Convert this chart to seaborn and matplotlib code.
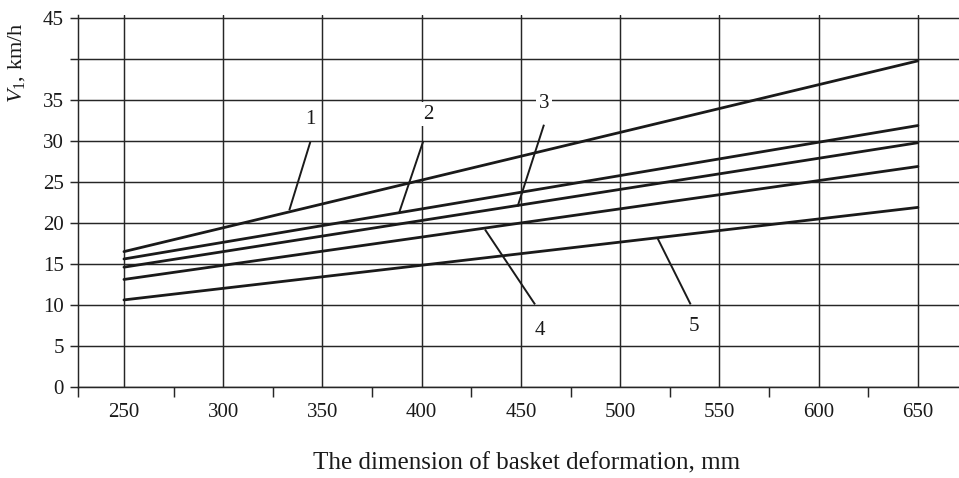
import matplotlib
matplotlib.use("Agg")
import matplotlib.pyplot as plt
import seaborn as sns
import pandas as pd

# ---- data ----
deformation_mm = [250, 650]
curve_ids = ["1", "2", "3", "4", "5"]
v_start = [16.5, 15.6, 14.6, 13.1, 10.6]
v_end = [39.8, 31.9, 29.8, 26.9, 21.9]

x_ticks = [250, 300, 350, 400, 450, 500, 550, 600, 650]
x_minor_ticks = [226.7, 275, 325, 375, 425, 475, 525, 575, 625]
y_ticks = [0, 5, 10, 15, 20, 25, 30, 35, 40, 45]
y_tick_labels = ["0", "5", "10", "15", "20", "25", "30", "35", "", "45"]

label_x = [344.0, 403.3, 461.6, 459.6, 537.3]
label_y = [32.6, 33.3, 34.6, 6.9, 7.3]
leader_x0 = [343.9, 400.8, 461.6, 431.9, 518.7]
leader_y0 = [29.9, 30.0, 32.0, 19.2, 18.2]
leader_x1 = [333.3, 388.7, 448.3, 457.1, 535.5]
leader_y1 = [21.55, 21.3, 22.0, 10.05, 10.05]

x_label = "The dimension of basket deformation, mm"
y_label = "$V_1$, km/h"

rows = []
for cid, a, b in zip(curve_ids, v_start, v_end):
    rows.append({"curve": cid, "x": deformation_mm[0], "v": a})
    rows.append({"curve": cid, "x": deformation_mm[1], "v": b})
df = pd.DataFrame(rows)

sns.set_style("white")
plt.rcParams["font.family"] = ["Liberation Serif", "DejaVu Serif"]
plt.rcParams["mathtext.fontset"] = "custom"
plt.rcParams["mathtext.rm"] = "Liberation Serif"
plt.rcParams["mathtext.it"] = "Liberation Serif:italic"

fig = plt.figure(figsize=(9.59, 4.78), dpi=100)
ax = fig.add_axes([77.7 / 959, 1 - 386.7 / 478, 881.3 / 959, 371.7 / 478])

ink = "#1a1a1a"
grid_c = "#262626"

sns.lineplot(data=df, x="x", y="v", units="curve", estimator=None,
             color=ink, linewidth=2.0, ax=ax, zorder=3, legend=False)

for i, cid in enumerate(curve_ids):
    ax.plot([leader_x0[i], leader_x1[i]], [leader_y0[i], leader_y1[i]],
            color=ink, linewidth=1.4, zorder=3, solid_capstyle="butt")
    ax.text(label_x[i], label_y[i], cid, fontsize=15, ha="center", va="center",
            color=ink, zorder=4,
            bbox=dict(boxstyle="square,pad=0.12", facecolor="white", edgecolor="none"))

ax.set_xlim(226.7, 670.7)
ax.set_ylim(0, 45.4)

ax.set_xticks(x_ticks)
ax.set_xticklabels([str(t) for t in x_ticks])
ax.set_xticks(x_minor_ticks, minor=True)
ax.set_yticks(y_ticks)
ax.set_yticklabels(y_tick_labels)

ax.grid(True, which="major", color=grid_c, linewidth=1.05)
ax.set_axisbelow(True)

ax.tick_params(axis="x", which="major", length=0, pad=11.5, labelsize=15, colors=ink)
ax.tick_params(axis="x", which="minor", length=7.2, width=1.05, direction="out",
               color=grid_c, bottom=True)
ax.tick_params(axis="y", which="major", length=5.8, width=1.05, direction="out",
               pad=4, labelsize=15, color=grid_c, labelcolor=ink, left=True)

for s in ["top", "right"]:
    ax.spines[s].set_visible(False)
for s in ["left", "bottom"]:
    ax.spines[s].set_color(grid_c)
    ax.spines[s].set_linewidth(1.05)

ax.set_xlabel(x_label, fontsize=18, color=ink)
ax.set_ylabel(y_label, fontsize=16, color=ink)
ax.xaxis.set_label_coords(0.509, -0.178)
ax.yaxis.set_label_coords(-0.057, 0.871)

fig.savefig("out.png", dpi=100)
